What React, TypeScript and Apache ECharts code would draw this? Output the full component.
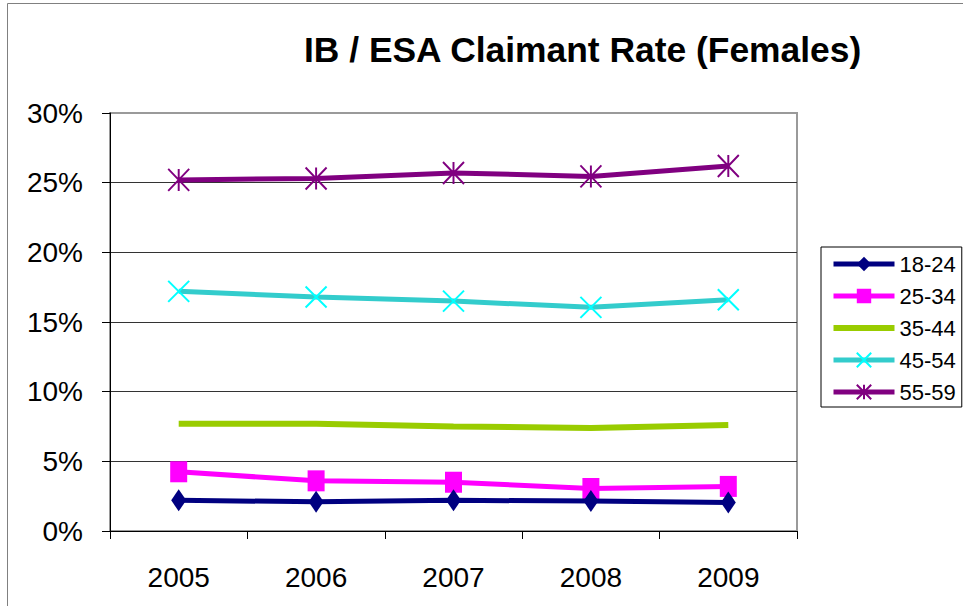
import React, { useEffect, useRef } from "react";
import * as echarts from "echarts";

const titleText = "IB / ESA Claimant Rate (Females)";
const years = ["2005", "2006", "2007", "2008", "2009"];
const seriesNames = ["18-24", "25-34", "35-44", "45-54", "55-59"];
const age18to24 = [2.2, 2.1, 2.2, 2.15, 2.05];
const age25to34 = [4.25, 3.6, 3.5, 3.05, 3.2];
const age35to44 = [7.7, 7.7, 7.5, 7.4, 7.6];
const age45to54 = [17.2, 16.8, 16.5, 16.05, 16.6];
const age55to59 = [25.2, 25.3, 25.7, 25.45, 26.2];
const yTicks = [0, 5, 10, 15, 20, 25, 30];

const FONT = "Liberation Sans, Arial, sans-serif";
const X_PATH = "path://M0 0 L10 10 M10 0 L0 10";
const STAR_PATH = "path://M0 0 L10 10 M10 0 L0 10 M5 0 L5 10";
const BAR_PATH = "path://M0 0 H61 V6 H0 Z";

export default function App() {
  const ref = useRef<HTMLDivElement>(null);
  useEffect(() => {
    if (!ref.current) return;
    const chart = echarts.init(ref.current, null, { renderer: "svg" });
    const option: any = {
      animation: false,
      backgroundColor: "#ffffff",
      title: {
        text: titleText,
        left: 299,
        top: 27,
        textStyle: { fontFamily: FONT, fontSize: 35.4, fontWeight: "bold", color: "#000" },
      },
      graphic: [
        {
          type: "rect",
          shape: { x: 7.5, y: 3.5, width: 1000, height: 700 },
          style: { fill: "none", stroke: "#808080", lineWidth: 1 },
          silent: true,
        },
      ],
      grid: {
        left: 110,
        right: 166,
        top: 113,
        bottom: 75,
        show: true,
        borderColor: "#9a9a9a",
        borderWidth: 2,
        backgroundColor: "transparent",
      },
      legend: {
        orient: "vertical",
        left: 821,
        top: 247,
        data: [
          seriesNames[0],
          seriesNames[1],
          { name: seriesNames[2], icon: BAR_PATH },
          seriesNames[3],
          seriesNames[4],
        ],
        backgroundColor: "#fff",
        borderColor: "#000",
        borderWidth: 1,
        padding: [6, 6, 4, 10],
        itemWidth: 61,
        itemHeight: 18,
        itemGap: 10,
        lineStyle: { width: 5 },
        textStyle: { fontFamily: FONT, fontSize: 22, color: "#000", lineHeight: 22 },
      },
      xAxis: {
        type: "category",
        data: years,
        boundaryGap: true,
        axisLine: { lineStyle: { color: "#000", width: 1 } },
        axisTick: { show: true, length: 8, lineStyle: { color: "#000" } },
        axisLabel: { fontFamily: FONT, fontSize: 28, color: "#000", margin: 32 },
        splitLine: { show: false },
      },
      yAxis: {
        type: "value",
        min: yTicks[0],
        max: yTicks[yTicks.length - 1],
        interval: 5,
        axisLine: { show: true, lineStyle: { color: "#000", width: 1 } },
        axisTick: { show: true, length: 8, lineStyle: { color: "#000" } },
        axisLabel: {
          fontFamily: FONT,
          fontSize: 28,
          color: "#000",
          margin: 27,
          formatter: "{value}%",
        },
        splitLine: { show: true, showMaxLine: false, lineStyle: { color: "#333", width: 1 } },
      },
      series: [
        {
          name: seriesNames[0],
          type: "line",
          data: age18to24,
          symbol: "diamond",
          symbolSize: [15, 22],
          lineStyle: { color: "#000080", width: 5 },
          itemStyle: { color: "#000080" },
          z: 5,
        },
        {
          name: seriesNames[1],
          type: "line",
          data: age25to34,
          symbol: "rect",
          symbolSize: [17, 21],
          lineStyle: { color: "#ff00ff", width: 5 },
          itemStyle: { color: "#ff00ff" },
          z: 4,
        },
        {
          name: seriesNames[2],
          type: "line",
          data: age35to44,
          symbol: "none",
          lineStyle: { color: "#99cc00", width: 6 },
          itemStyle: { color: "#99cc00" },
        },
        {
          name: seriesNames[3],
          type: "line",
          data: age45to54,
          symbol: X_PATH,
          symbolSize: [21, 21],
          lineStyle: { color: "#33cccc", width: 5 },
          itemStyle: { color: "#00ffff", borderColor: "#00ffff", borderWidth: 2 },
        },
        {
          name: seriesNames[4],
          type: "line",
          data: age55to59,
          symbol: STAR_PATH,
          symbolSize: [21, 22],
          lineStyle: { color: "#800080", width: 5 },
          itemStyle: { color: "#800080", borderColor: "#800080", borderWidth: 2 },
        },
      ],
    };
    chart.setOption(option);
    return () => chart.dispose();
  }, []);
  return (
    <div
      ref={ref}
      style={{ position: "absolute", left: 0, top: 0, width: 963, height: 606 }}
    />
  );
}
